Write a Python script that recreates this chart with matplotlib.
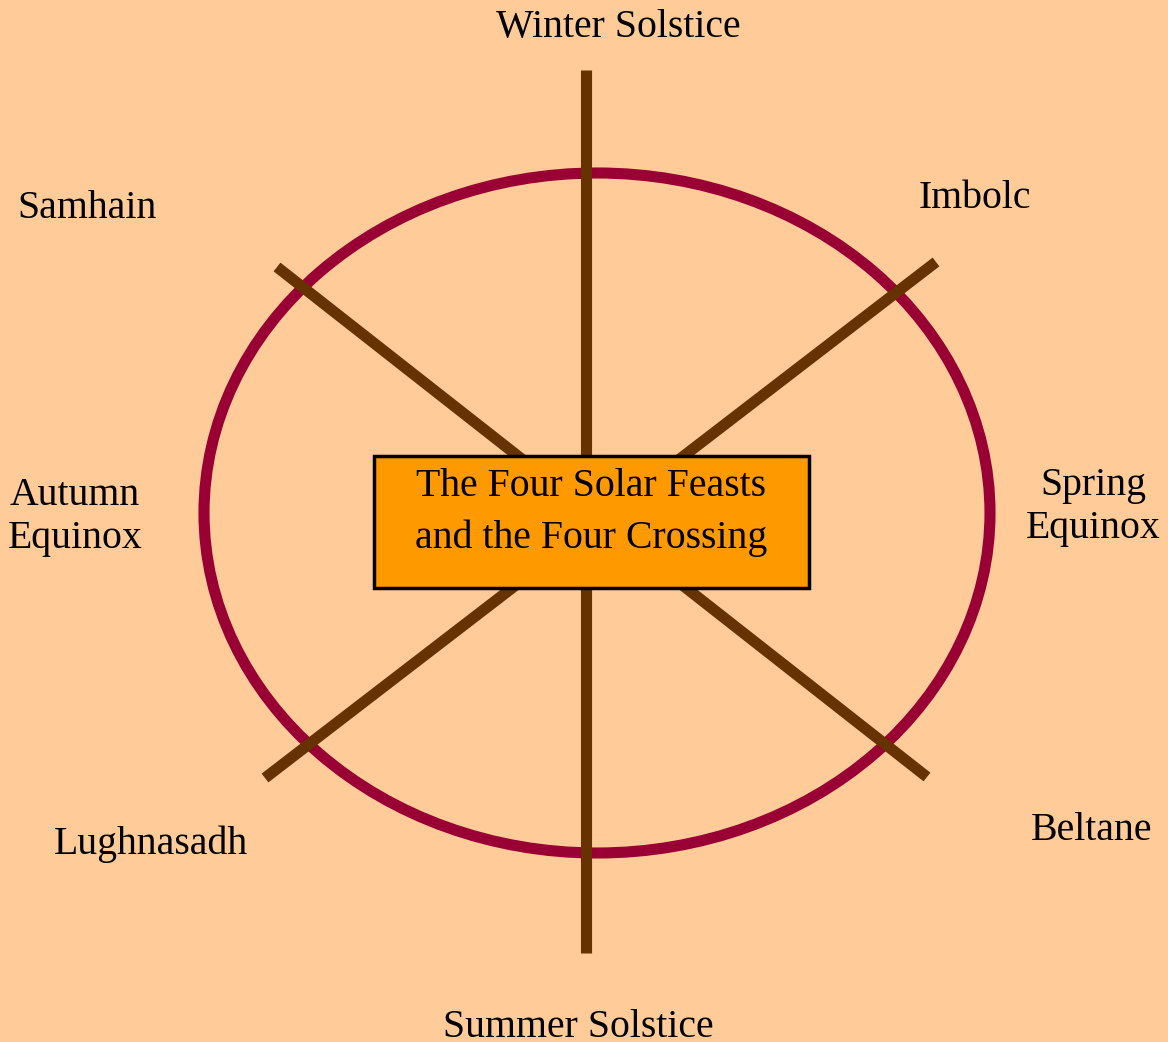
import matplotlib.pyplot as plt
from matplotlib.patches import Ellipse, Rectangle

# labels around the wheel and where they sit (pixel coords, baseline of last line)
labels = ["Winter Solstice", "Imbolc", "Spring\nEquinox", "Beltane",
          "Summer Solstice", "Lughnasadh", "Autumn\nEquinox", "Samhain"]
label_x = [618, 975, 1093, 1092, 578, 151, 75, 87]
label_y = [37, 208, 538, 840, 1037, 854, 548, 218]

# spokes: start and end points
spoke_x0 = [586, 277, 936]
spoke_y0 = [70, 267, 262]
spoke_x1 = [586, 927, 265]
spoke_y1 = [953, 777, 778]

center_title = "The Four Solar Feasts\nand the Four Crossing"

W, H = 1168, 1042
fig = plt.figure(figsize=(W / 100, H / 100), dpi=100)
fig.patch.set_facecolor("#FFCC99")
ax = fig.add_axes([0, 0, 1, 1])
ax.set_xlim(0, W)
ax.set_ylim(H, 0)
ax.axis("off")

font = ["Liberation Serif", "DejaVu Serif"]
fs = 28.6

for x0, y0, x1, y1 in zip(spoke_x0, spoke_y0, spoke_x1, spoke_y1):
    ax.plot([x0, x1], [y0, y1], color="#663300", lw=8, solid_capstyle="butt", zorder=2)

ax.add_patch(Ellipse((597, 513), 786, 680, fill=False, ec="#990033", lw=8, zorder=1))

ax.add_patch(Rectangle((374, 456), 435, 132, fc="#FF9900", ec="black", lw=2.5, zorder=3))
ax.text(591, 548, center_title, ha="center", va="baseline", fontsize=fs,
        family=font, linespacing=1.5, zorder=4)

for lab, x, y in zip(labels, label_x, label_y):
    ax.text(x, y, lab, ha="center", va="baseline", fontsize=fs,
            family=font, linespacing=1.2)

fig.savefig("out.png", dpi=100, facecolor=fig.get_facecolor())
